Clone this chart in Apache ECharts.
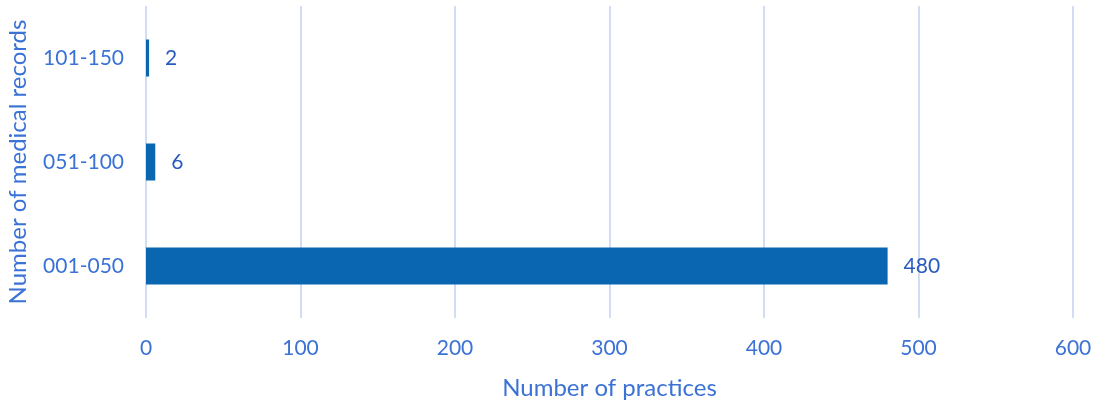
<!DOCTYPE html>
<html><head><meta charset="utf-8">
<script src="https://cdn.jsdelivr.net/npm/echarts@6/dist/echarts.min.js"></script>
<style>html,body{margin:0;padding:0;background:#fff}#c{width:1095px;height:403px}</style>
</head><body><div id="c"></div>
<script>
const categories = ['001-050', '051-100', '101-150'];
const values = [480, 6, 2];
const xTicks = [0, 100, 200, 300, 400, 500, 600];

const chart = echarts.init(document.getElementById('c'));
const font = 'Lato, "Open Sans", sans-serif';
chart.setOption({
  animation: false,
  grid: {left: 146, right: 22, top: 6, bottom: 85, containLabel: false, outerBoundsMode: 'none'},
  xAxis: {
    type: 'value', min: xTicks[0], max: xTicks[xTicks.length - 1], interval: 100,
    name: 'Number of practices', nameLocation: 'middle', nameGap: 58,
    nameTextStyle: {color: '#3b72d6', fontSize: 24, fontFamily: font},
    axisLine: {show: false}, axisTick: {show: false},
    axisLabel: {color: '#3b72d6', fontSize: 21, fontFamily: font, margin: 20},
    splitLine: {lineStyle: {color: '#d0ddf4', width: 2}}
  },
  yAxis: {
    type: 'category', data: categories,
    name: 'Number of medical records', nameLocation: 'middle', nameGap: 116,
    nameTextStyle: {color: '#3b72d6', fontSize: 24, fontFamily: font},
    axisLine: {show: false}, axisTick: {show: false},
    axisLabel: {color: '#3b72d6', fontSize: 21, fontFamily: font, margin: 22}
  },
  series: [{
    type: 'bar', data: values, barWidth: 37,
    itemStyle: {color: '#0a66b0'},
    label: {show: true, position: 'right', distance: 16, color: '#2a5cbf', fontSize: 21, fontFamily: font}
  }]
});
</script></body></html>
